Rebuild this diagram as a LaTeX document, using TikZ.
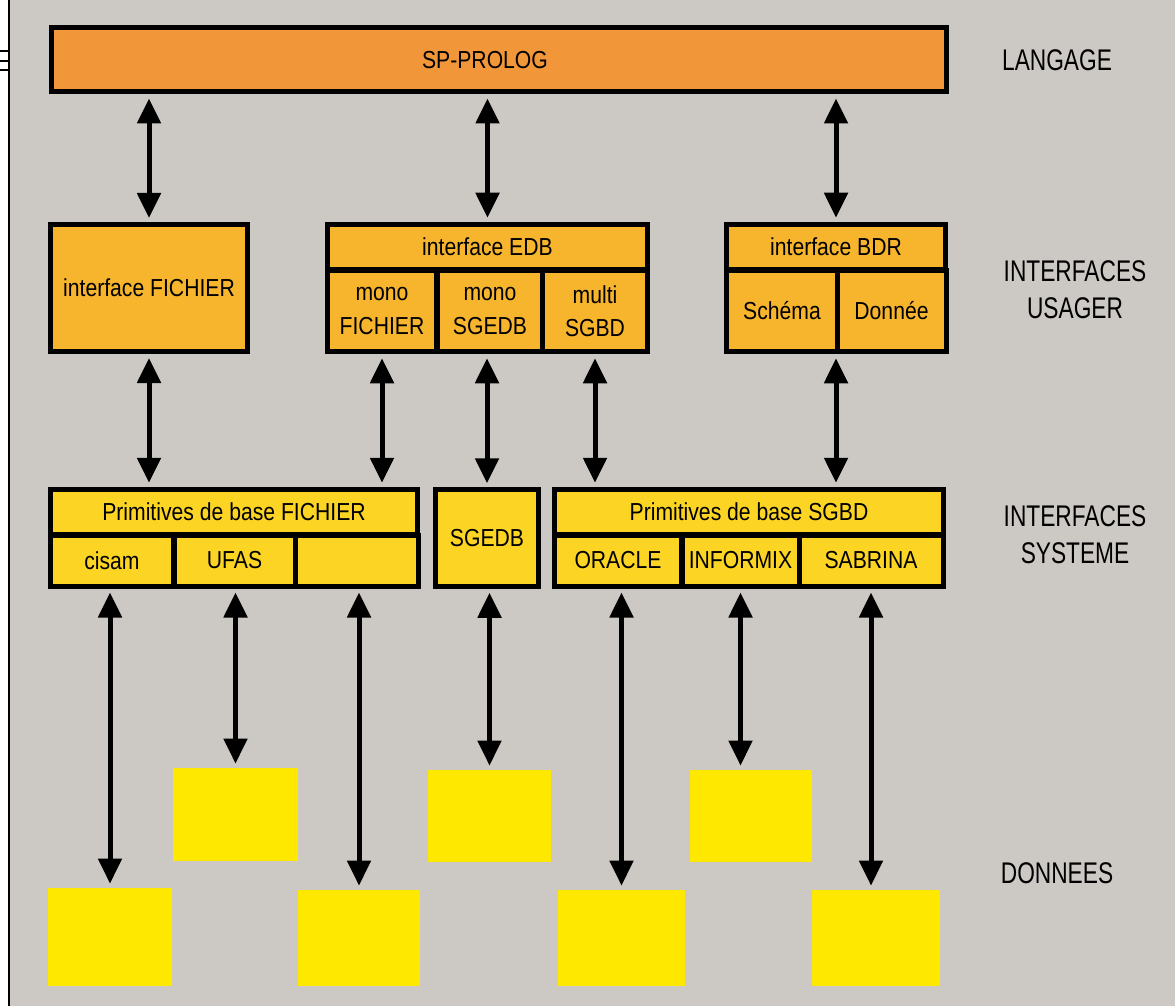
\documentclass[tikz,border=0pt]{standalone}
\usepackage{fontspec}
\setmainfont{Liberation Sans}[FakeStretch=0.86]
\newfontfamily\layerfont{Liberation Sans}[FakeStretch=0.76]
\usepackage{tikz}
\usetikzlibrary{arrows.meta}
\definecolor{bggray}{HTML}{CCC8C3}
\definecolor{langorange}{HTML}{F2963A}
\definecolor{userorange}{HTML}{F7B52E}
\definecolor{sysyellow}{HTML}{FCD424}
\definecolor{datayellow}{HTML}{FFE800}

\begin{document}
\begin{tikzpicture}[x=0.2mm,y=-0.2mm,
  every node/.style={font=\fontsize{14}{19}\selectfont},
  box/.style={draw,line width=1mm,inner sep=0pt,align=center},
  data/.style={fill=datayellow,inner sep=0pt},
  layer/.style={font=\layerfont\fontsize{17}{21}\selectfont,align=center},
  arrow/.style={{Triangle[width=4.6mm,length=5mm]}-{Triangle[width=4.6mm,length=5mm]},line width=1mm,shorten >=0.8mm,shorten <=0.8mm}
]
  \useasboundingbox (0,0) rectangle (1175,1006);
  \fill[bggray] (0,0) rectangle (1175,1006);
  \fill[white] (0,0) rectangle (8,1006);
  \draw[line width=0.45mm] (9,0) -- (9,1006);
  \foreach \y in {51,61,70}
    \draw[line width=0.5mm] (0,\y) -- (9,\y);

  \node[box,fill=langorange,minimum width=178.8mm,minimum height=12.8mm] (prolog) at (499,60) {SP-PROLOG\hspace*{5.6mm}};

  \node[box,fill=userorange,minimum width=39.4mm,minimum height=25.4mm] (ifichier) at (149,288) {interface FICHIER};
  \node[box,fill=userorange,minimum width=64mm,minimum height=9.1mm] (iedb) at (487.5,247) {interface EDB};
  \node[box,fill=userorange,minimum width=21.9mm,minimum height=16.3mm] (monofich) at (382,311) {mono\\FICHIER};
  \node[box,fill=userorange,minimum width=21.2mm,minimum height=16.3mm] (monosgedb) at (490,311) {mono\\SGEDB};
  \node[box,fill=userorange,minimum width=20.9mm,minimum height=16.3mm] (multi) at (595,311) {multi\\SGBD};
  \node[box,fill=userorange,minimum width=43.9mm,minimum height=9.1mm] (ibdr) at (836,247) {interface BDR};
  \node[box,fill=userorange,minimum width=22.1mm,minimum height=16.3mm] (schema) at (782,311) {Schéma};
  \node[box,fill=userorange,minimum width=21.8mm,minimum height=16.3mm] (donnee) at (891.5,311) {Donnée};

  \node[box,fill=sysyellow,minimum width=73.5mm,minimum height=9.1mm] (primfich) at (234,512) {Primitives de base FICHIER};
  \node[box,fill=sysyellow,minimum width=24.7mm,minimum height=10.2mm] (cisam) at (112,560.5) {cisam};
  \node[box,fill=sysyellow,minimum width=24.2mm,minimum height=10.2mm] (ufas) at (234.5,560.5) {UFAS};
  \node[box,fill=sysyellow,minimum width=24.6mm,minimum height=10.2mm] (vide) at (356.5,560.5) {};
  \node[box,fill=sysyellow,minimum width=20.7mm,minimum height=19.3mm] (sgedb) at (487,538) {SGEDB};
  \node[box,fill=sysyellow,minimum width=77.7mm,minimum height=9.1mm] (primsgbd) at (749,512) {Primitives de base SGBD};
  \node[box,fill=sysyellow,minimum width=25.5mm,minimum height=10.2mm] (oracle) at (618,560.5) {ORACLE};
  \node[box,fill=sysyellow,minimum width=23.4mm,minimum height=10.2mm] (informix) at (740.5,560.5) {INFORMIX};
  \node[box,fill=sysyellow,minimum width=28.8mm,minimum height=10.2mm] (sabrina) at (871,560.5) {SABRINA};

  \node[data,minimum width=25mm,minimum height=18.6mm] (dufas) at (235.5,814.5) {};
  \node[data,minimum width=24.6mm,minimum height=18.4mm] (dsgedb) at (489.5,816) {};
  \node[data,minimum width=24.4mm,minimum height=18.4mm] (dinformix) at (751,816) {};
  \node[data,minimum width=24.8mm,minimum height=19.6mm] (dcisam) at (110,937) {};
  \node[data,minimum width=24.4mm,minimum height=19.2mm] (dvide) at (359,938) {};
  \node[data,minimum width=25.4mm,minimum height=19.2mm] (doracle) at (621.5,938) {};
  \node[data,minimum width=25.6mm,minimum height=19.2mm] (dsabrina) at (876,938) {};

  \node[layer] (langage) at (1057,60) {LANGAGE};
  \node[layer] (usager) at (1075,290) {INTERFACES\\USAGER};
  \node[layer] (systeme) at (1075,535) {INTERFACES\\SYSTEME};
  \node[layer] (donnees) at (1057,873) {DONNEES};

  \draw[arrow] (prolog.south -| ifichier.north) -- (ifichier.north);
  \draw[arrow] (prolog.south -| iedb.north) -- (iedb.north);
  \draw[arrow] (prolog.south -| ibdr.north) -- (ibdr.north);

  \draw[arrow] (ifichier.south) -- (ifichier.south |- primfich.north);
  \draw[arrow] (monofich.south) -- (monofich.south |- primfich.north);
  \draw[arrow] (monosgedb.south -| sgedb.north) -- (sgedb.north);
  \draw[arrow] (multi.south) -- (multi.south |- primsgbd.north);
  \draw[arrow] (ibdr.south |- donnee.south) -- (ibdr.south |- primsgbd.north);

  \draw[arrow] (cisam.south -| dcisam.north) -- (dcisam.north);
  \draw[arrow] (ufas.south -| dufas.north) -- (dufas.north);
  \draw[arrow] (vide.south -| dvide.north) -- (dvide.north);
  \draw[arrow] (sgedb.south -| dsgedb.north) -- (dsgedb.north);
  \draw[arrow] (oracle.south -| doracle.north) -- (doracle.north);
  \draw[arrow] (informix.south) -- (informix.south |- dinformix.north);
  \draw[arrow] (sabrina.south) -- (sabrina.south |- dsabrina.north);
\end{tikzpicture}
\end{document}
